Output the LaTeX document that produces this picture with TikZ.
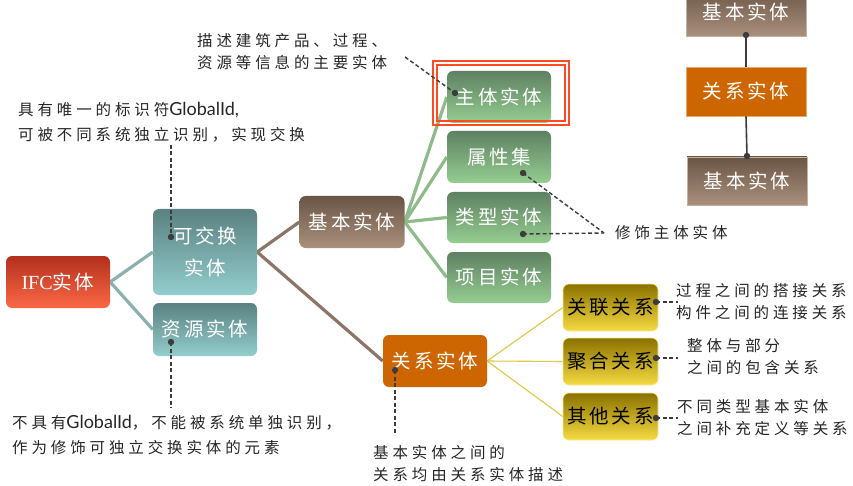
\documentclass[tikz,border=0pt]{standalone}
\usepackage{fontspec}
\setmainfont{Liberation Serif}
\newfontfamily\cjkann[LetterSpace=25]{Noto Sans CJK SC}
\newfontfamily\cjkbox[LetterSpace=14]{Noto Sans CJK SC}
\newfontfamily\latann{Lato}
\usetikzlibrary{backgrounds}
\definecolor{ifcT}{HTML}{B3301C}
\definecolor{ifcB}{HTML}{FC6846}
\definecolor{tealT}{HTML}{5B8181}
\definecolor{tealB}{HTML}{93CDCD}
\definecolor{brT}{HTML}{6A5545}
\definecolor{brB}{HTML}{AA907D}
\definecolor{grT}{HTML}{5E8162}
\definecolor{grB}{HTML}{95CD91}
\definecolor{relO}{HTML}{CD6600}
\definecolor{goT}{HTML}{8A7200}
\definecolor{goB}{HTML}{F6DA42}
\definecolor{lnTeal}{HTML}{8CB0AF}
\definecolor{lnBrown}{HTML}{8C7468}
\definecolor{lnGreen}{HTML}{8FBA8A}
\definecolor{lnGold}{HTML}{E2C640}
\definecolor{anc}{HTML}{3C3C3C}
\definecolor{frameR}{HTML}{FF4A24}
\tikzset{
  box/.style={rectangle, rounded corners=6pt, inner sep=0pt, text=white,
    font=\cjkbox\fontsize{19.5}{25}\selectfont, align=center,
    minimum width=104pt, minimum height=52pt},
  ifcbox/.style={box, top color=ifcT, bottom color=ifcB},
  tealbox/.style={box, top color=tealT, bottom color=tealB},
  brbox/.style={box, top color=brT, bottom color=brB},
  grbox/.style={box, top color=grT, bottom color=grB},
  relbox/.style={box, fill=relO},
  gobox/.style={box, top color=goT, bottom color=goB, text=black,
    minimum width=95pt, minimum height=47pt, draw=goB!60!white, line width=0.6pt},
  legbr/.style={box, rounded corners=0pt, top color=brT, bottom color=brB,
    minimum width=120pt, minimum height=48pt, draw=brB!70!white, line width=0.6pt},
  legrel/.style={box, rounded corners=0pt, fill=relO,
    minimum width=120pt, minimum height=49pt, draw=relO!55!white, line width=0.6pt},
  ann/.style={inner sep=0pt, anchor=west, align=left, text=black!85,
    font=\cjkann\fontsize{15.5}{22}\selectfont},
  ann25/.style={ann, font=\cjkann\fontsize{15.5}{25}\selectfont},
  dashln/.style={anc, line width=1.4pt, dash pattern=on 4pt off 2.5pt},
  dotc/.style={fill=anc},
  thick3/.style={line width=3.2pt},
}
\newcommand{\gid}{{\latann\fontsize{18}{22}\selectfont GlobalId}}
\begin{document}
\begin{tikzpicture}[x=1pt,y=-1pt]
\clip (0,0) rectangle (853,486);

% main nodes
\node[ifcbox] (ifc) at (58,282) {{\fontspec{Liberation Serif}\fontsize{20}{24}\selectfont IFC}实体};
\node[tealbox, minimum height=86pt, font=\cjkbox\fontsize{19.5}{32}\selectfont] (exch) at (205,252) {可交换\\实体};
\node[tealbox, minimum height=53pt] (res) at (205,329.5) {资源实体};
\node[brbox, minimum width=105pt] (basic) at (352,222) {基本实体};
\node[grbox] (main) at (499,97) {主体实体};
\node[grbox] (pset) at (499,157) {属性集};
\node[grbox, minimum height=51pt] (type) at (499,217.5) {类型实体};
\node[grbox, minimum height=51pt] (proj) at (499,277.5) {项目实体};
\node[relbox] (rel) at (435,361) {关系实体};
\node[gobox] (assoc) at (610.5,307.5) {关联关系};
\node[gobox] (aggr) at (610.5,361.5) {聚合关系};
\node[gobox] (other) at (610.5,416.5) {其他关系};

% legend
\node[legbr] (lgtop) at (746,12) {基本实体};
\node[legrel] (lgrel) at (746,91.5) {关系实体};
\node[legbr] (lgbot) at (747,181) {基本实体};

% tree connectors
\begin{scope}[on background layer]
\fill[white] (0,0) rectangle (853,486);
\draw[lnTeal, thick3] (ifc.east) -- (exch.west);
\draw[lnTeal, thick3] (ifc.east) -- (res.west);
\draw[lnBrown, thick3] (exch.east) -- (basic.west);
\draw[lnBrown, thick3] (exch.east) -- (rel.west);
\foreach \t in {main,pset,type,proj}
  \draw[lnGreen, thick3] (basic.east) -- (\t.west);
\foreach \t in {assoc,aggr,other}
  \draw[lnGold, line width=1.1pt] (rel.east) -- (\t.west);
\end{scope}

% highlight frame
\draw[frameR, line width=1.3pt] (433,61) rectangle (569,125);
\draw[frameR, line width=1.3pt] (437,65) rectangle (565,121);

% legend connectors
\coordinate (lgd1) at (746,35);
\coordinate (lgd2) at (747,156);
\draw[anc, line width=1.6pt] (lgd1) -- (lgrel.north);
\draw[anc, line width=1.6pt] (lgrel.south) -- (lgd2);
\fill[dotc] (lgd1) circle (3.2pt);
\fill[dotc] (lgd2) circle (3.2pt);

% annotations
\node[ann] (a1) at (197,52) {描述建筑产品、过程、\\资源等信息的主要实体};
\node[ann25] (a2) at (18,122.5) {具有唯一的标识符\gid{\latann\fontsize{18}{22}\selectfont,}\\可被不同系统独立识别，实现交换};
\node[ann25] (a3) at (12,435.5) {不具有\gid，不能被系统单独识别，\\作为修饰可独立交换实体的元素};
\node[ann] (a4) at (373,464) {基本实体之间的\\关系均由关系实体描述};
\node[ann] (a5) at (615,233) {修饰主体实体};
\node[ann] (a6) at (676,302) {过程之间的搭接关系\\构件之间的连接关系};
\node[ann] (a7) at (687,357) {整体与部分\\之间的包含关系};
\node[ann] (a8) at (677,418) {不同类型基本实体\\之间补充定义等关系};

\coordinate (d1) at (455,93);   \coordinate (e1) at (405,57);
\coordinate (d2) at (171,237);  \coordinate (e2) at (171,145);
\coordinate (d3) at (171,342);  \coordinate (e3) at (171,408);
\coordinate (d4) at (395,370);  \coordinate (e4) at (395,435);
\coordinate (d5) at (523,173);  \coordinate (d6) at (523,234);
\coordinate (e5) at (604,233);
\coordinate (d7) at (656,302);  \coordinate (e7) at (678,302);
\coordinate (d8) at (656,358);  \coordinate (e8) at (678,358);
\coordinate (d9) at (656,418);  \coordinate (e9) at (678,418);

\draw[dashln] (e1) -- (d1);
\draw[dashln] (e2) -- (d2);
\draw[dashln] (d3) -- (e3);
\draw[dashln] (d4) -- (e4);
\draw[dashln] (d5) -- (e5);
\draw[dashln] (d6) -- (e5);
\draw[dashln] (d7) -- (e7);
\draw[dashln] (d8) -- (e8);
\draw[dashln] (d9) -- (e9);
\foreach \d in {d1,d2,d3,d4,d5,d6,d7,d8,d9}
  \fill[dotc] (\d) circle (3.2pt);
\end{tikzpicture}
\end{document}
